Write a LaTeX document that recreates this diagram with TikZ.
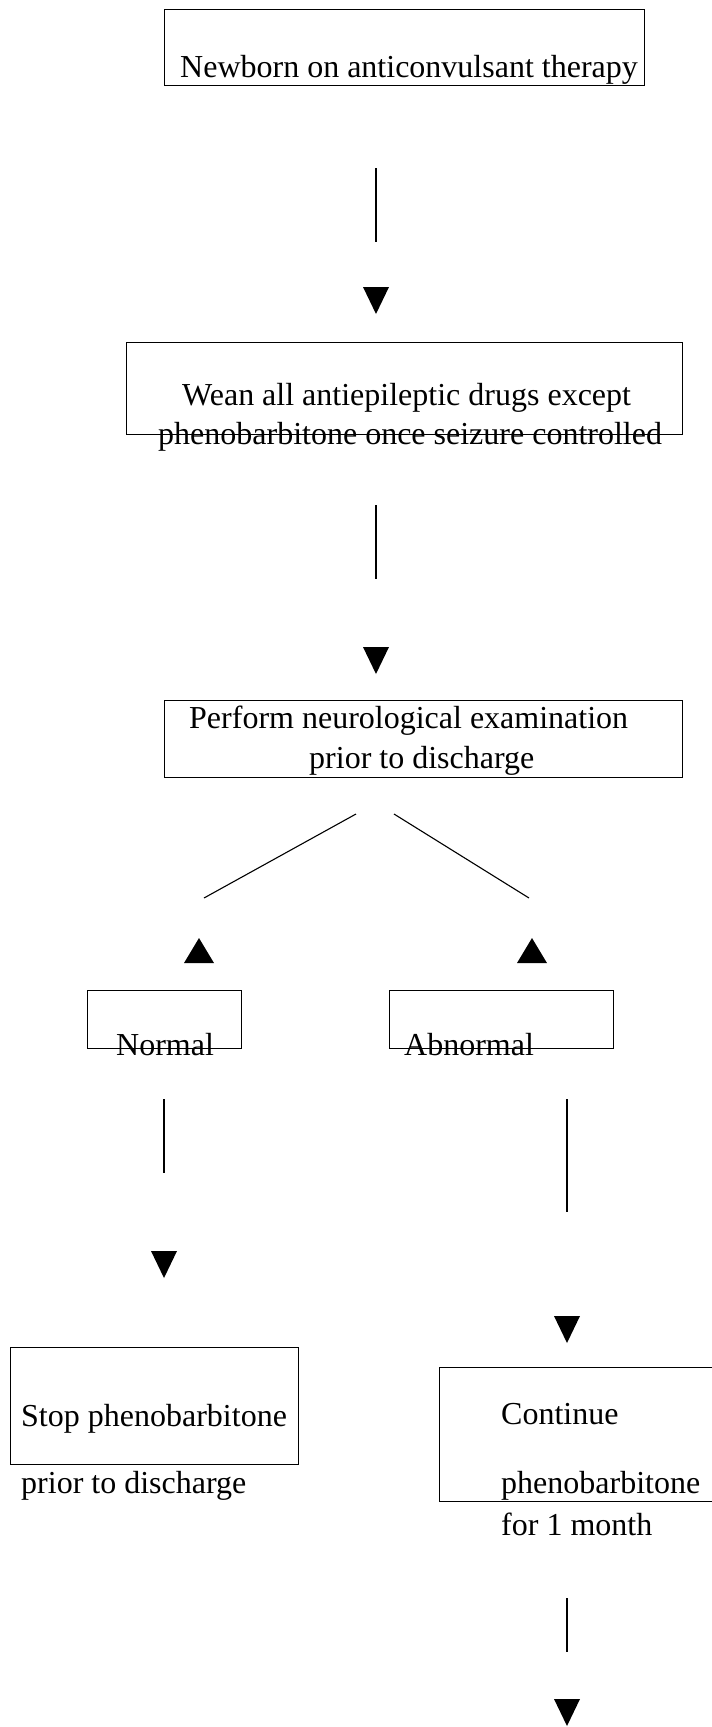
\documentclass[tikz,border=0pt]{standalone}
\usepackage{fontspec}
\setmainfont{Liberation Serif}
\begin{document}
\begin{tikzpicture}[x=1pt,y=-1pt,
                box/.style={draw=black,line width=1.4pt,inner sep=0pt,anchor=north west},
                txt/.style={anchor=base west,inner sep=0pt,font=\fontsize{32}{38}\selectfont},
                link/.style={draw=black,line width=1.1pt}
            ]
                \useasboundingbox (0,0) rectangle (712,1727);
                % boxes
                \node[box,minimum width=480pt,minimum height=76pt] (start) at (164,9) { };
                \node[box,minimum width=556pt,minimum height=92pt] (wean) at (126,342) { };
                \node[box,minimum width=518pt,minimum height=77pt] (exam) at (164,700) { };
                \node[box,minimum width=154pt,minimum height=58pt] (normal) at (87,990) { };
                \node[box,minimum width=224pt,minimum height=58pt] (abnormal) at (389,990) { };
                \node[box,minimum width=288pt,minimum height=117pt] (stop) at (10,1347) { };
                \node[box,minimum width=276pt,minimum height=134pt] (cont) at (439,1367) { };
                % texts
                \node[txt] (startA) at (180,77) {Newborn on anticonvulsant therapy};
                \node[txt] (weanA) at (182,405) {Wean all antiepileptic drugs except};
                \node[txt] (weanB) at (158,444) {phenobarbitone once seizure controlled};
                \node[txt] (examA) at (189,728) {Perform neurological examination};
                \node[txt] (examB) at (309,768) {prior to discharge};
                \node[txt] (normalA) at (116,1055) {Normal};
                \node[txt] (abnormalA) at (404,1055) {Abnormal};
                \node[txt] (stopA) at (21,1426) {Stop phenobarbitone};
                \node[txt] (stopB) at (21,1493) {prior to discharge};
                \node[txt] (contA) at (501,1424) {Continue};
                \node[txt] (contB) at (501,1493) {phenobarbitone};
                \node[txt] (contC) at (501,1535) {for 1 month};
                % connectors
                \foreach \n/\xa/\ya/\xb/\yb in {1/376/168/376/242, 2/376/505/376/579,
                    3/356/814/204/898, 4/394/814/529/898, 5/164/1099/164/1173,
                    6/567/1099/567/1212, 7/567/1598/567/1652}
                    {
                    \coordinate (s\n) at (\xa,\ya);
                    \coordinate (e\n) at (\xb,\yb);
                    \draw[link] (s\n) -- (e\n);
                }
                \foreach \tx/\ty in {376/287, 376/647, 164/1251, 567/1316, 567/1699}
                    {
                    \fill (\tx-13,\ty) -- (\tx+13,\ty) -- (\tx,\ty+27) -- cycle;
                }
                \foreach \tx/\ty in {199/963, 532/963}
                    {
                    \fill (\tx-15,\ty) -- (\tx+15,\ty) -- (\tx,\ty-25) -- cycle;
                }

            \end{tikzpicture}
\end{document}
